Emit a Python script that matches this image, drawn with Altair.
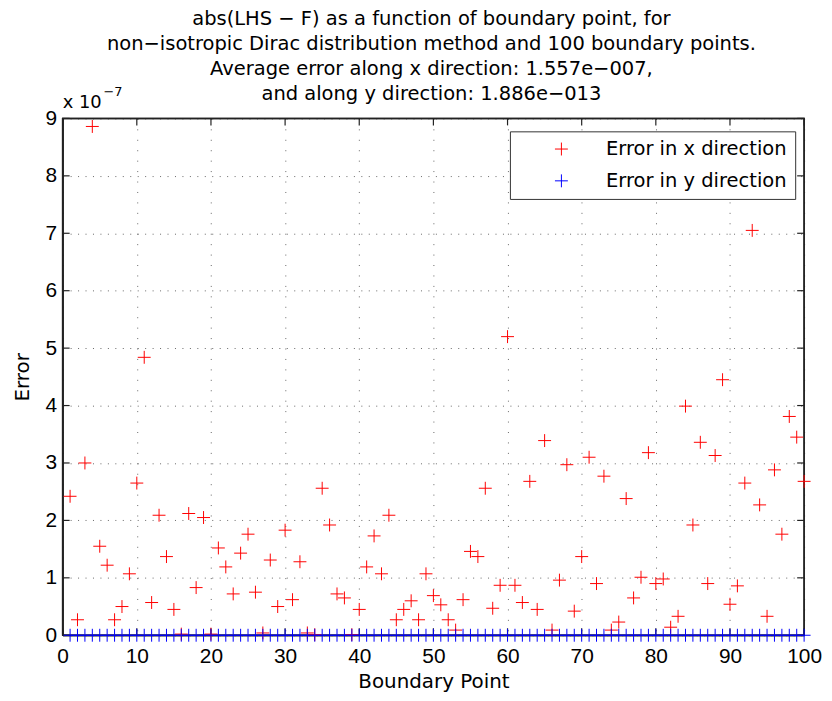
import altair as alt
import pandas as pd

# ---------------- data (error values in units of 1e-7) ----------------
boundary_point = list(range(1, 101))

err_x = [
    2.42, 0.27, 3.00, 8.86, 1.55, 1.22, 0.27, 0.50, 1.07, 2.65,
    4.84, 0.57, 2.09, 1.37, 0.45, 0.02, 2.12, 0.83, 2.05, 0.02,
    1.52, 1.19, 0.72, 1.43, 1.76, 0.75, 0.04, 1.31, 0.50, 1.83,
    0.62, 1.28, 0.04, 0.01, 2.56, 1.92, 0.72, 0.65, 0.01, 0.45,
    1.19, 1.73, 1.07, 2.09, 0.27, 0.45, 0.60, 0.27, 1.07, 0.69,
    0.53, 0.27, 0.09, 0.62, 1.46, 1.37, 2.56, 0.47, 0.87, 5.20,
    0.87, 0.57, 2.68, 0.45, 3.39, 0.09, 0.96, 2.97, 0.42, 1.37,
    3.10, 0.90, 2.77, 0.09, 0.23, 2.38, 0.65, 1.01, 3.18, 0.90,
    0.98, 0.14, 0.33, 3.99, 1.92, 3.36, 0.90, 3.13, 4.45, 0.54,
    0.86, 2.65, 7.05, 2.27, 0.33, 2.88, 1.76, 3.81, 3.45, 2.68,
]

err_y = [
    0.0, 0.0, 0.0, 0.0, 0.0, 0.0, 0.0, 0.0, 0.0, 0.0,
    0.0, 0.0, 0.0, 0.0, 0.0, 0.0, 0.0, 0.0, 0.0, 0.0,
    0.0, 0.0, 0.0, 0.0, 0.0, 0.0, 0.0, 0.0, 0.0, 0.0,
    0.0, 0.0, 0.0, 0.0, 0.0, 0.0, 0.0, 0.0, 0.0, 0.0,
    0.0, 0.0, 0.0, 0.0, 0.0, 0.0, 0.0, 0.0, 0.0, 0.0,
    0.0, 0.0, 0.0, 0.0, 0.0, 0.0, 0.0, 0.0, 0.0, 0.0,
    0.0, 0.0, 0.0, 0.0, 0.0, 0.0, 0.0, 0.0, 0.0, 0.0,
    0.0, 0.0, 0.0, 0.0, 0.0, 0.0, 0.0, 0.0, 0.0, 0.0,
    0.0, 0.0, 0.0, 0.0, 0.0, 0.0, 0.0, 0.0, 0.0, 0.0,
    0.0, 0.0, 0.0, 0.0, 0.0, 0.0, 0.0, 0.0, 0.0, 0.0,
]

series_names = ["Error in x direction", "Error in y direction"]
series_colors = ["#ff0000", "#0000ff"]

x_ticks = [0, 10, 20, 30, 40, 50, 60, 70, 80, 90, 100]
y_ticks = [0, 1, 2, 3, 4, 5, 6, 7, 8, 9]

# closed outline of the axes box, in data units
box_x = [0, 100, 100, 0, 0]
box_y = [0, 0, 9, 9, 0]
box_order = [0, 1, 2, 3, 4]

title_lines = [
    "abs(LHS \u2212 F) as a function of boundary point, for",
    "non\u2212isotropic Dirac distribution method and 100 boundary points.",
    "Average error along x direction: 1.557e\u2212007,",
    "and along y direction: 1.886e\u2212013",
]
exp_base = "x 10"
exp_power = "\u22127"

# ---------------- layout ----------------
W, H = 746, 520
PLUS = "M-1,0L1,0M0,-1L0,1"
TICK_SIZE = 196          # custom path scaled by sqrt(size)/2 -> 7 px
TICK_UP = "M0,0L0,-1"
TICK_DOWN = "M0,0L0,1"
TICK_RIGHT = "M0,0L1,0"
TICK_LEFT = "M0,0L-1,0"
TICK_FONT = "Liberation Sans"
TEXT_FONT = "DejaVu Sans"
FRAME = "#222222"

df = pd.DataFrame({
    "point": boundary_point + boundary_point,
    "error": err_x + err_y,
    "series": [series_names[0]] * len(err_x) + [series_names[1]] * len(err_y),
})

x_scale = alt.Scale(domain=[0, 100], nice=False, zero=False)
y_scale = alt.Scale(domain=[0, 9], nice=False, zero=False)

x_axis = alt.Axis(
    values=x_ticks, title="Boundary Point", grid=True,
    gridDash=[1, 9.5], gridColor="#000000", gridOpacity=0.6, gridWidth=1,
    domain=True, domainColor=FRAME, domainWidth=1.5,
    ticks=False, tickSize=0,
    labelFont=TICK_FONT, labelFontSize=21, labelColor="#000000",
    labelPadding=10, labelFlush=False, labelOverlap=False,
    titleFont=TEXT_FONT, titleFontSize=20, titleFontWeight="normal",
    titleColor="#000000", titlePadding=6,
)
y_axis = alt.Axis(
    values=y_ticks, title="Error", grid=True,
    gridDash=[1, 6.5], gridColor="#000000", gridOpacity=0.6, gridWidth=1,
    domain=True, domainColor=FRAME, domainWidth=1.5,
    ticks=False, tickSize=0,
    labelFont=TICK_FONT, labelFontSize=21, labelColor="#000000",
    labelPadding=6, labelFlush=False, labelOverlap=False,
    titleFont=TEXT_FONT, titleFontSize=20, titleFontWeight="normal",
    titleColor="#000000", titlePadding=13,
)

points = alt.Chart(df).mark_point(
    shape=PLUS, size=169, filled=False, strokeWidth=1, opacity=1
).encode(
    x=alt.X("point:Q", scale=x_scale, axis=x_axis),
    y=alt.Y("error:Q", scale=y_scale, axis=y_axis),
    color=alt.Color(
        "series:N",
        scale=alt.Scale(domain=series_names, range=series_colors),
        legend=alt.Legend(
            title=None, orient="none", legendX=450, legendY=13,
            padding=8, fillColor="#ffffff", strokeColor="#333333",
            symbolType=PLUS, symbolSize=169, symbolStrokeWidth=1,
            symbolOffset=34, labelOffset=35, rowPadding=11,
            labelFont=TEXT_FONT, labelFontSize=19.6, labelColor="#000000",
            labelLimit=400,
        ),
    ),
)

box_df = pd.DataFrame({"bx": box_x, "by": box_y, "o": box_order})
box = alt.Chart(box_df).mark_line(color=FRAME, strokeWidth=1.5, opacity=1).encode(
    x=alt.X("bx:Q", scale=x_scale, axis=x_axis),
    y=alt.Y("by:Q", scale=y_scale, axis=y_axis),
    order=alt.Order("o:Q"),
)

xt = pd.DataFrame({"tx": x_ticks, "lo": [0] * len(x_ticks), "hi": [9] * len(x_ticks)})
yt = pd.DataFrame({"ty": y_ticks, "lo": [0] * len(y_ticks), "hi": [100] * len(y_ticks)})


def tick_layer(data, xf, yf, shape):
    return alt.Chart(data).mark_point(
        shape=shape, size=TICK_SIZE, filled=False, color=FRAME,
        strokeWidth=1.2, opacity=1,
    ).encode(
        x=alt.X(xf, scale=x_scale, axis=x_axis),
        y=alt.Y(yf, scale=y_scale, axis=y_axis),
    )


tick_bottom = tick_layer(xt, "tx:Q", "lo:Q", TICK_UP)
tick_top = tick_layer(xt, "tx:Q", "hi:Q", TICK_DOWN)
tick_left = tick_layer(yt, "lo:Q", "ty:Q", TICK_RIGHT)
tick_right = tick_layer(yt, "hi:Q", "ty:Q", TICK_LEFT)

one = pd.DataFrame({"k": [0]})

title_text = alt.Chart(one).mark_text(
    font=TEXT_FONT, fontSize=19.6, align="center", baseline="alphabetic",
    lineHeight=25, color="#000000",
).encode(x=alt.value(W / 2 - 2), y=alt.value(-94), text=alt.value(title_lines))

exp_text = alt.Chart(one).mark_text(
    font=TEXT_FONT, fontSize=18, align="left", baseline="alphabetic", color="#000000",
).encode(x=alt.value(0), y=alt.value(-10), text=alt.value(exp_base))

pow_text = alt.Chart(one).mark_text(
    font=TEXT_FONT, fontSize=13, align="left", baseline="alphabetic", color="#000000",
).encode(x=alt.value(41), y=alt.value(-23), text=alt.value(exp_power))

chart = alt.layer(
    box, tick_bottom, tick_top, tick_left, tick_right, points,
    title_text, exp_text, pow_text
).properties(
    width=W, height=H,
    autosize=alt.AutoSizeParams(type="none"),
    padding={"left": 55, "top": 109, "right": 20, "bottom": 56},
    background="#ffffff",
).configure_view(
    stroke=FRAME, strokeWidth=1.5
).configure_legend(
    strokeWidth=1
)

chart.save("out.html", embed_options={"renderer": "svg", "actions": False})
